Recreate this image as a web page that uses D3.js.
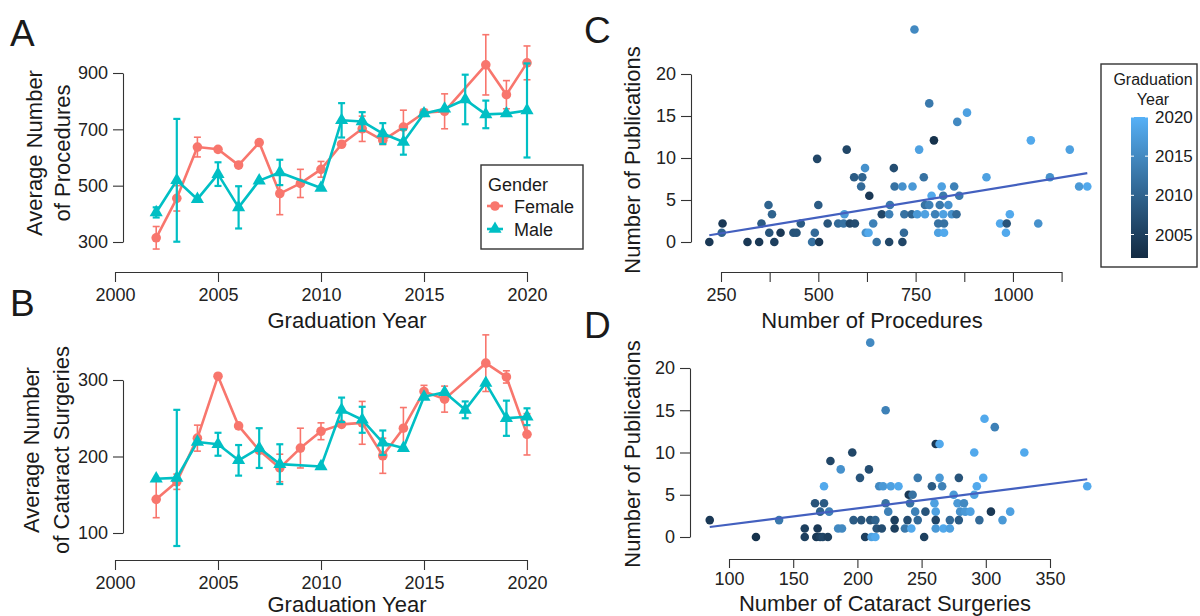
<!DOCTYPE html>
<html>
<head>
<meta charset="utf-8">
<script src="https://cdn.jsdelivr.net/npm/d3@7"></script>
<style>
  body { margin: 0; background: #fff; }
  svg { display: block; font-family: "Liberation Sans", Arial, sans-serif; }
</style>
</head>
<body>
<svg width="1200" height="616"></svg>
<script>
// ---- data ----
const years = d3.range(2002, 2021);

// A: average number of procedures (null = no point that year)
const procFemale    = [315, 455, 637, 629, 573, 653, 472, 508, 558, 647, 702, 661, 708, 759, 764, null, 929, 823, 936];
const procFemaleErr = [40, 45, 35, 0, 0, 0, 75, 50, 28, 0, 45, 15, 60, 12, 62, null, 107, 50, 60];
const procMale      = [405, 519, 452, 541, 423, 518, 547, null, 492, 732, 728, 685, 655, 756, 773, 806, 753, 756, 767];
const procMaleErr   = [18, 218, 0, 42, 75, 0, 45, null, 0, 61, 33, 37, 45, 6, 0, 88, 49, 0, 167];

// B: average number of cataract surgeries
const catFemale    = [144, 167, 224, 305, 240, 208, 185, 211, 233, 242, 244, 201, 237, 285, 275, null, 322, 304, 229];
const catFemaleErr = [24, 10, 17, 0, 0, 0, 18, 26, 11, 0, 28, 23, 27, 8, 17, null, 37, 8, 27];
const catMale      = [171, 172, 219, 216, 195, 211, 190, null, 187, 261, 248, 218, 211, 278, 284, 261, 296, 250, 252];
const catMaleErr   = [0, 89, 0, 15, 20, 26, 26, null, 0, 16, 17, 16, 0, 0, 0, 11, 0, 23, 11];

// C: procedures vs publications, per resident
const cProc = [220, 252, 254, 318, 348, 354, 372, 374, 381, 387, 403, 436, 444, 455, 484, 491, 497, 500, 502, 524,
  551, 565, 567, 573, 581, 594, 592, 613, 610, 620, 622, 629, 631, 641, 650, 663, 682, 684, 682, 694,
  696, 716, 716, 742, 720, 721, 740, 754, 747, 785, 882, 857, 797, 759, 1046, 1146, 771, 932, 1095, 817,
  849, 1170, 1191, 791, 821, 862, 774, 785, 812, 834, 774, 800, 821, 843, 855, 808, 823, 967, 984, 1065,
  992, 808, 823, 982];
const cPubs = [0, 1.1, 2.2, 0, 0, 2.2, 4.4, 1.1, 3.3, 0, 1.1, 1.1, 1.1, 2.2, 0, 1.1, 9.9, 4.4, 0, 2.2,
  2.2, 2.2, 3.3, 11, 2.2, 2.2, 7.7, 7.7, 6.6, 8.8, 1.1, 1.1, 5.5, 2.2, 0, 3.3, 0, 4.4, 3.3, 8.8,
  6.6, 0, 6.6, 6.6, 1.1, 3.3, 3.3, 3.3, 25.3, 16.5, 15.4, 14.3, 12.1, 11, 12.1, 11, 7.7, 7.7, 7.7, 6.6,
  6.6, 6.6, 6.6, 5.5, 5.5, 5.5, 4.4, 4.4, 4.4, 4.4, 3.3, 3.3, 3.3, 3.3, 3.3, 2.2, 2.2, 2.2, 2.2, 2.2,
  3.3, 1.1, 1.1, 1.1];
const cYear = [2004, 2010, 2004, 2004, 2004, 2009, 2010, 2008, 2010, 2005, 2004, 2008, 2008, 2009, 2012, 2011, 2006, 2009, 2004, 2008,
  2011, 2012, 2017, 2006, 2006, 2007, 2009, 2010, 2011, 2016, 2016, 2019, 2004, 2014, 2012, 2006, 2006, 2013, 2014, 2007,
  2012, 2006, 2016, 2017, 2011, 2012, 2010, 2017, 2015, 2013, 2018, 2015, 2003, 2018, 2019, 2018, 2012, 2018, 2016, 2018,
  2014, 2017, 2019, 2019, 2013, 2013, 2012, 2014, 2013, 2016, 2018, 2014, 2018, 2016, 2011, 2012, 2012, 2019, 2008, 2016,
  2019, 2018, 2019, 2019];
const cFit = [-0.877, 0.00762];   // intercept, slope

// D: cataract surgeries vs publications
const dCat = [85, 121, 139, 159, 159, 167, 169, 168, 171, 173, 177, 174, 174, 171, 178, 179, 185, 188, 187, 196,
  197, 203, 202, 206, 209, 210, 210, 214, 211, 214, 215, 219, 217, 220, 226, 232, 222, 222, 224, 229,
  229, 261, 264, 299, 307, 291, 330, 247, 264, 279, 298, 258, 266, 293, 379, 240, 243, 275, 291, 241,
  260, 278, 283, 245, 253, 261, 280, 284, 288, 304, 319, 239, 247, 261, 272, 279, 295, 313, 237, 242,
  261, 267, 272, 252];
const dPubs = [2, 0, 2, 1, 0, 4, 1, 0, 0, 0, 0, 4, 6, 3, 3, 9, 1, 1, 8, 10,
  2, 2, 7, 0, 8, 23, 2, 2, 0, 0, 1, 1, 6, 6, 6, 6, 4, 15, 3, 2,
  1, 11, 11, 14, 13, 10, 10, 7, 7, 7, 7, 6, 6, 6, 6, 5, 5, 5, 5, 4,
  4, 4, 4, 3, 3, 3, 3, 3, 3, 3, 3, 2, 2, 2, 2, 2, 2, 2, 1, 1,
  1, 1, 1, 0];
const dYear = [2004, 2003, 2013, 2005, 2005, 2008, 2004, 2004, 2005, 2006, 2005, 2009, 2019, 2010, 2014, 2006, 2015, 2015, 2016, 2006,
  2009, 2008, 2008, 2005, 2007, 2015, 2008, 2010, 2018, 2019, 2008, 2007, 2015, 2017, 2018, 2019, 2012, 2014, 2014, 2005,
  2005, 2004, 2019, 2019, 2014, 2019, 2019, 2013, 2017, 2008, 2019, 2009, 2014, 2019, 2019, 2004, 2012, 2017, 2018, 2012,
  2018, 2017, 2015, 2014, 2008, 2018, 2016, 2017, 2018, 2004, 2018, 2007, 2011, 2006, 2011, 2009, 2011, 2017, 2013, 2019,
  2017, 2019, 2018, 2005];
const dFit = [-0.454, 0.01922];

const femaleColor = "#F8766D";
const maleColor = "#00BFC4";
const fitColor = "#4360BF";
const yearColor = d3.scaleLinear().domain([2002, 2020]).range(["#132B43", "#56B1F7"]).interpolate(d3.interpolateLab);

const svg = d3.select("svg");
const axisColor = "#333";
const textColor = "#1a1a1a";

function styleAxis(g) {
  g.select(".domain").attr("stroke", axisColor).attr("stroke-width", 1.1);
  g.selectAll(".tick line").attr("stroke", axisColor).attr("stroke-width", 1.1);
  g.selectAll(".tick text").attr("fill", "#222").style("font-size", "18px");
}

function label(txt, x, y, size, opts = {}) {
  const t = svg.append("text")
    .attr("x", x).attr("y", y)
    .attr("fill", textColor)
    .style("font-size", size + "px")
    .attr("text-anchor", opts.anchor || "middle")
    .text(txt);
  if (opts.rotate) t.attr("transform", `rotate(-90, ${x}, ${y})`);
  return t;
}

function yearAxis(x, y0) {
  const xAxis = d3.axisBottom(x)
    .tickValues([2000, 2005, 2010, 2015, 2020])
    .tickFormat(d3.format("d"))
    .tickSize(10).tickSizeOuter(0).tickPadding(6);
  svg.append("g").attr("transform", `translate(0, ${y0})`).call(xAxis).call(styleAxis);
}

function renderGenderPanel(x, y, series) {
  series.forEach(s => {
    const pts = years.map((yr, i) => ({ yr, v: s.values[i], e: s.errs[i] })).filter(d => d.v != null);
    const g = svg.append("g");
    g.append("path")
      .datum(pts)
      .attr("fill", "none")
      .attr("stroke", s.color)
      .attr("stroke-width", 2.6)
      .attr("stroke-linejoin", "round")
      .attr("d", d3.line().x(d => x(d.yr)).y(d => y(d.v)));

    const bars = g.selectAll(".err").data(pts.filter(d => d.e > 0)).enter().append("g");
    bars.append("line")
      .attr("x1", d => x(d.yr)).attr("x2", d => x(d.yr))
      .attr("y1", d => y(d.v - d.e)).attr("y2", d => y(d.v + d.e));
    bars.append("line")
      .attr("x1", d => x(d.yr) - 3.5).attr("x2", d => x(d.yr) + 3.5)
      .attr("y1", d => y(d.v + d.e)).attr("y2", d => y(d.v + d.e));
    bars.append("line")
      .attr("x1", d => x(d.yr) - 3.5).attr("x2", d => x(d.yr) + 3.5)
      .attr("y1", d => y(d.v - d.e)).attr("y2", d => y(d.v - d.e));
    bars.selectAll("line").attr("stroke", s.color).attr("stroke-width", s.shape === "circle" ? 1.6 : 2.2);

    if (s.shape === "circle") {
      g.selectAll(".pt").data(pts).enter().append("circle")
        .attr("cx", d => x(d.yr)).attr("cy", d => y(d.v)).attr("r", 4.8)
        .attr("fill", s.color);
    } else {
      g.selectAll(".pt").data(pts).enter().append("path")
        .attr("transform", d => `translate(${x(d.yr)}, ${y(d.v)})`)
        .attr("d", d3.symbol().type(d3.symbolTriangle).size(75))
        .attr("fill", s.color);
    }
  });
}

// ---- Panel A ----
const xA = d3.scaleLinear().domain([2000, 2020]).range([115, 527]);
const yA = d3.scaleLinear().domain([300, 900]).range([242, 73]);
svg.append("g").attr("transform", "translate(123, 0)")
  .call(d3.axisLeft(yA).tickValues([300, 500, 700, 900]).tickSize(10).tickSizeOuter(0).tickPadding(5))
  .call(styleAxis);
yearAxis(xA, 272);
renderGenderPanel(xA, yA, [
  { values: procFemale, errs: procFemaleErr, color: femaleColor, shape: "circle" },
  { values: procMale, errs: procMaleErr, color: maleColor, shape: "triangle" }
]);
label("Graduation Year", 347, 328, 22);
label("Average Number", 42, 153, 22, { rotate: true });
label("of Procedures", 70, 153, 22, { rotate: true });

// gender legend
svg.append("rect").attr("x", 481).attr("y", 165).attr("width", 102).attr("height", 84)
  .attr("fill", "#fff").attr("stroke", axisColor).attr("stroke-width", 1.4);
label("Gender", 488, 191, 18, { anchor: "start" });
const legendItems = [
  { name: "Female", color: femaleColor, shape: "circle", y: 206 },
  { name: "Male", color: maleColor, shape: "triangle", y: 229 }
];
legendItems.forEach(it => {
  svg.append("line").attr("x1", 487).attr("x2", 503).attr("y1", it.y).attr("y2", it.y)
    .attr("stroke", it.color).attr("stroke-width", 2.6);
  if (it.shape === "circle") {
    svg.append("circle").attr("cx", 495).attr("cy", it.y).attr("r", 4.8).attr("fill", it.color);
  } else {
    svg.append("path").attr("transform", `translate(495, ${it.y})`)
      .attr("d", d3.symbol().type(d3.symbolTriangle).size(75)).attr("fill", it.color);
  }
  label(it.name, 514, it.y + 6.5, 18, { anchor: "start" });
});

// ---- Panel B ----
const xB = d3.scaleLinear().domain([2000, 2020]).range([115, 527]);
const yB = d3.scaleLinear().domain([100, 300]).range([533, 380]);
svg.append("g").attr("transform", "translate(123, 0)")
  .call(d3.axisLeft(yB).tickValues([100, 200, 300]).tickSize(10).tickSizeOuter(0).tickPadding(5))
  .call(styleAxis);
yearAxis(xB, 560);
renderGenderPanel(xB, yB, [
  { values: catFemale, errs: catFemaleErr, color: femaleColor, shape: "circle" },
  { values: catMale, errs: catMaleErr, color: maleColor, shape: "triangle" }
]);
label("Graduation Year", 347, 612, 22);
label("Average Number", 39, 450, 22, { rotate: true });
label("of Cataract Surgeries", 69, 450, 22, { rotate: true });

// ---- scatter panels ----
function renderScatter(x, y, xs, ys, yrs, fit) {
  const pts = xs.map((v, i) => ({ x: v, y: ys[i], yr: yrs[i] }));
  const g = svg.append("g");
  g.selectAll("circle").data(pts).enter().append("circle")
    .attr("cx", d => x(d.x)).attr("cy", d => y(d.y)).attr("r", 4.3)
    .attr("fill", d => yearColor(d.yr));
  const [lo, hi] = d3.extent(xs);
  g.append("line")
    .attr("x1", x(lo)).attr("y1", y(fit[0] + fit[1] * lo))
    .attr("x2", x(hi)).attr("y2", y(fit[0] + fit[1] * hi))
    .attr("stroke", fitColor).attr("stroke-width", 2.2);
}

// Panel C
const xC = d3.scaleLinear().domain([250, 1125]).range([721, 1061.6]);
const yC = d3.scaleLinear().domain([0, 20]).range([242, 74]);
svg.append("g").attr("transform", "translate(691, 0)")
  .call(d3.axisLeft(yC).tickValues([0, 5, 10, 15, 20]).tickSize(10).tickSizeOuter(0).tickPadding(5))
  .call(styleAxis);
svg.append("g").attr("transform", "translate(0, 272)")
  .call(d3.axisBottom(xC).tickValues(d3.range(250, 1126, 125))
    .tickFormat(d => d % 250 === 0 ? d : "")
    .tickSize(10).tickSizeOuter(0).tickPadding(6))
  .call(styleAxis);
renderScatter(xC, yC, cProc, cPubs, cYear, cFit);
label("Number of Procedures", 872, 328, 22);
label("Number of Publications", 640, 160, 22, { rotate: true });

// Panel D
const xD = d3.scaleLinear().domain([100, 350]).range([729, 1050]);
const yD = d3.scaleLinear().domain([0, 20]).range([537, 368]);
svg.append("g").attr("transform", "translate(690, 0)")
  .call(d3.axisLeft(yD).tickValues([0, 5, 10, 15, 20]).tickSize(10).tickSizeOuter(0).tickPadding(5))
  .call(styleAxis);
svg.append("g").attr("transform", "translate(0, 559)")
  .call(d3.axisBottom(xD).tickValues([100, 150, 200, 250, 300, 350])
    .tickSize(9).tickSizeOuter(0).tickPadding(4))
  .call(styleAxis);
renderScatter(xD, yD, dCat, dPubs, dYear, dFit);
label("Number of Cataract Surgeries", 885, 611, 22);
label("Number of Publications", 640, 454, 22, { rotate: true });

// colour bar legend
svg.append("rect").attr("x", 1101).attr("y", 64).attr("width", 96).attr("height", 203)
  .attr("fill", "#fff").attr("stroke", axisColor).attr("stroke-width", 1.4);
label("Graduation", 1153, 85, 16);
label("Year", 1153, 105, 16);
const cbY = d3.scaleLinear().domain([2002, 2020]).range([258, 117]);
const grad = svg.append("defs").append("linearGradient").attr("id", "yearGrad")
  .attr("x1", 0).attr("y1", 1).attr("x2", 0).attr("y2", 0);
d3.range(0, 1.001, 0.1).forEach(t => {
  grad.append("stop").attr("offset", t).attr("stop-color", yearColor(2002 + 18 * t));
});
svg.append("rect").attr("x", 1131).attr("y", cbY(2020)).attr("width", 17)
  .attr("height", cbY(2002) - cbY(2020)).attr("fill", "url(#yearGrad)");
[2005, 2010, 2015, 2020].forEach(v => {
  svg.append("line").attr("x1", 1131).attr("x2", 1134).attr("y1", cbY(v)).attr("y2", cbY(v)).attr("stroke", "#fff");
  svg.append("line").attr("x1", 1145).attr("x2", 1148).attr("y1", cbY(v)).attr("y2", cbY(v)).attr("stroke", "#fff");
  label(v, 1155, cbY(v) + 6, 17, { anchor: "start" });
});

// panel letters
label("A", 10, 46, 37, { anchor: "start" });
label("B", 10, 316, 37, { anchor: "start" });
label("C", 584, 43, 37, { anchor: "start" });
label("D", 584, 338, 37, { anchor: "start" });
</script>
</body>
</html>
